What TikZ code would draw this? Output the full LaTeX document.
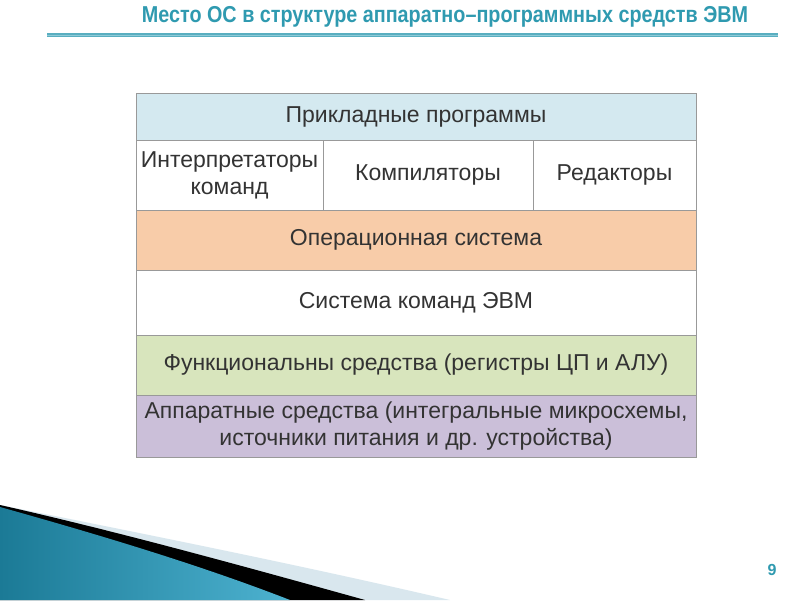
\documentclass[tikz,border=0pt]{standalone}
\usepackage{fontspec}
\setmainfont{Liberation Sans}
\newfontfamily\titlefont[FakeStretch=0.86]{Liberation Sans}
\usetikzlibrary{positioning}

\definecolor{teal1}{HTML}{2F9AB0}
\definecolor{linecol}{HTML}{5FB3C6}
\definecolor{txtcol}{HTML}{333333}
\definecolor{appcol}{HTML}{D4E9F0}
\definecolor{oscol}{HTML}{F8CCA9}
\definecolor{funccol}{HTML}{D8E5BD}
\definecolor{hwcol}{HTML}{CBBFD9}
\definecolor{bandcol}{HTML}{D9E7EE}
\definecolor{wedgedark}{HTML}{1B7A96}
\definecolor{wedgelight}{HTML}{4DB2D0}

\tikzset{
  layer/.style={draw=gray!80, line width=0.8pt, inner sep=0pt, outer sep=0pt,
    text=txtcol, align=center, font=\fontsize{23}{27}\selectfont},
  wide/.style={layer, minimum width=560pt},
}

\begin{document}
\begin{tikzpicture}[x=1pt, y=-1pt]
            \useasboundingbox [fill=white] (0,0) rectangle (800,600);

            % heading
            \node (t) [font=\titlefont\bfseries\fontsize{23}{27}\selectfont, text=teal1] at (445,17)
              {Место ОС в структуре аппаратно–программных средств ЭВМ};
            \coordinate (tl) at (47,35);
            \coordinate (tr) at (778,35);
            \draw [line width=3.2pt, draw=teal1!80] (tl) -- (tr);
            \draw [line width=1.4pt, draw=linecol!70] ([yshift=-0.6pt]tl) -- ([yshift=-0.6pt]tr);

            % layers
            \node (1) [wide, fill=appcol, minimum height=47pt, anchor=north west] at (136,93) {Прикладные программы};

            \node (2) [layer, fill=white, minimum width=187pt, minimum height=70pt, anchor=north west] at (1.south west) {Интерпретаторы\\команд};
            \node (3) [layer, fill=white, minimum width=210pt, minimum height=70pt, right=0pt of 2] {Компиляторы};
            \node (4) [layer, fill=white, minimum width=163pt, minimum height=70pt, right=0pt of 3] {Редакторы};

            \node (5) [wide, fill=oscol, minimum height=60pt, anchor=north west] at (2.south west) {Операционная система};
            \node (6) [wide, fill=white, minimum height=65pt, below=0pt of 5] {Система команд ЭВМ};
            \node (7) [wide, fill=funccol, minimum height=60pt, below=0pt of 6] {Функциональны средства (регистры ЦП и АЛУ)};
            \node (8) [wide, fill=hwcol, minimum height=62pt, below=0pt of 7] {Аппаратные средства (интегральные микросхемы,\\источники питания и др. устройства)};

            % corner wedge
            \fill [bandcol] (0,505) .. controls (150,535) and (300,565) .. (450,600) -- (0,600) -- cycle;
            \fill [black] (0,505) .. controls (120,532) and (250,568) .. (365,600) -- (0,600) -- cycle;
            \shade [left color=wedgedark, right color=wedgelight] (0,507) .. controls (100,535) and (200,565) .. (290,600) -- (0,600) -- cycle;

            % slide number
            \node (9) [font=\bfseries\fontsize{16}{18}\selectfont, text=teal1] at (772,570) {9};
        \end{tikzpicture}
\end{document}
